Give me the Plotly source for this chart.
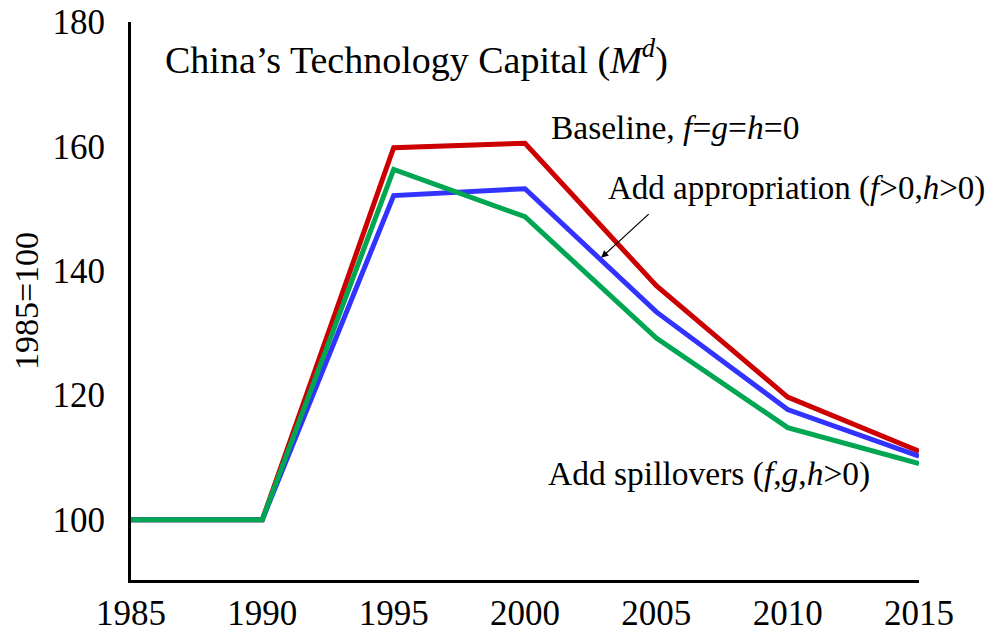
import plotly.graph_objects as go

years = [1985, 1990, 1995, 2000, 2005, 2010, 2015]
baseline = [100, 100, 159.8, 160.5, 137.6, 119.7, 111.0]
appropriation = [100, 100, 152.1, 153.2, 133.4, 117.7, 110.2]
spillovers = [100, 100, 156.3, 148.7, 129.2, 114.8, 109.0]

RED = "#CC0000"
BLUE = "#3333FF"
GREEN = "#00A651"
FONT = "Liberation Serif"

fig = go.Figure()
fig.add_trace(go.Scatter(x=years, y=baseline, mode="lines", name="Baseline",
                         line=dict(color=RED, width=5)))
fig.add_trace(go.Scatter(x=years, y=appropriation, mode="lines", name="Appropriation",
                         line=dict(color=BLUE, width=5)))
fig.add_trace(go.Scatter(x=years, y=spillovers, mode="lines", name="Spillovers",
                         line=dict(color=GREEN, width=5)))

# the page body has an 8px margin, so the margins are shifted to compensate
fig.update_layout(
    width=995, height=637,
    margin=dict(l=123, r=84, t=14, b=65),
    paper_bgcolor="white", plot_bgcolor="white",
    font=dict(family=FONT, size=34, color="black"),
    showlegend=False,
    annotations=[
        dict(text="China’s Technology Capital (<i>M</i><sup><i>d</i></sup>)",
             xref="paper", yref="paper", x=0.041, y=0.937, xanchor="left", yanchor="middle",
             showarrow=False, font=dict(size=38)),
        dict(text="Baseline, <i>f</i>=<i>g</i>=<i>h</i>=0",
             xref="x", yref="y", x=2000.9, y=163.1, xanchor="left", yanchor="middle",
             showarrow=False, font=dict(size=33.5)),
        dict(text="Add appropriation (<i>f</i>>0,<i>h</i>>0)",
             xref="x", yref="y", x=2003.1, y=153.2, xanchor="left", yanchor="middle",
             showarrow=False, font=dict(size=33)),
        dict(text="Add spillovers (<i>f</i>,<i>g</i>,<i>h</i>>0)",
             xref="x", yref="y", x=2000.8, y=107.4, xanchor="left", yanchor="middle",
             showarrow=False, font=dict(size=33.5)),
        dict(text="", xref="x", yref="y", x=2002.9, y=142.1,
             ax=49, ay=-45, showarrow=True, arrowhead=2, arrowsize=1.2,
             arrowwidth=1.2, arrowcolor="black"),
    ],
)
fig.update_xaxes(range=[1985, 2015], tickvals=years, showgrid=False, zeroline=False,
                 showline=True, linecolor="black", linewidth=3, ticks="",
                 ticklabelstandoff=0, tickfont=dict(size=35), automargin=False,
                 ticklabeloverflow="allow")
fig.update_yaxes(range=[90.3, 180], tickvals=[100, 120, 140, 160, 180], showgrid=False,
                 zeroline=False, showline=True, linecolor="black", linewidth=3, ticks="",
                 ticklabelstandoff=16, tickfont=dict(size=35), automargin=False,
                 ticklabeloverflow="allow",
                 title=dict(text="1985=100", font=dict(size=34), standoff=10))

fig.write_html("out.html")
